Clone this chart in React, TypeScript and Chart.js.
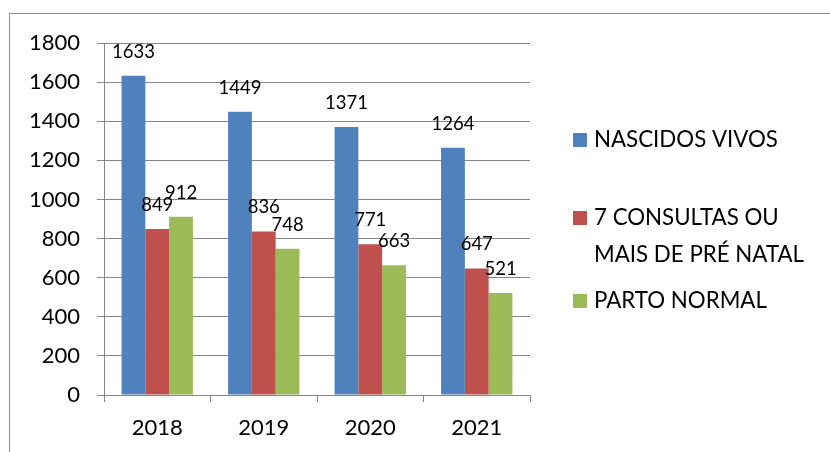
import React, { useEffect, useRef } from "react";
import { Chart, registerables } from "chart.js";

Chart.register(...registerables);

const categories = ["2018", "2019", "2020", "2021"];
const nascidosVivos = [1633, 1449, 1371, 1264];
const consultas = [849, 836, 771, 647];
const partoNormal = [912, 748, 663, 521];
const seriesNames = ["NASCIDOS VIVOS", "7 CONSULTAS OU MAIS DE PRÉ NATAL", "PARTO NORMAL"];
const legendLines = [["NASCIDOS VIVOS"], ["7 CONSULTAS OU", "MAIS DE PRÉ NATAL"], ["PARTO NORMAL"]];
const colors = ["#4F81BD", "#C0504D", "#9BBB59"];

const FONT = "Lato, 'Open Sans', sans-serif";
const GRID = "#868686";

export default function App() {
  const ref = useRef<HTMLCanvasElement | null>(null);

  useEffect(() => {
    document.body.style.margin = "0";
    const canvas = ref.current;
    if (!canvas) return;

    const framePlugin = {
      id: "frame",
      beforeDraw(chart: any) {
        const ctx = chart.ctx;
        ctx.save();
        ctx.fillStyle = "#ffffff";
        ctx.fillRect(0, 0, chart.width, chart.height);
        ctx.strokeStyle = "#8c8c8c";
        ctx.lineWidth = 1;
        ctx.strokeRect(9.5, 13.5, 900, 500);
        ctx.restore();
      },
    };

    const labelPlugin = {
      id: "barLabels",
      afterDatasetsDraw(chart: any) {
        const ctx = chart.ctx;
        ctx.save();
        ctx.font = `18.5px ${FONT}`;
        ctx.fillStyle = "#000";
        ctx.textAlign = "center";
        ctx.textBaseline = "middle";
        chart.data.datasets.forEach((ds: any, i: number) => {
          const meta = chart.getDatasetMeta(i);
          meta.data.forEach((bar: any, j: number) => {
            ctx.fillText(String(ds.data[j]), bar.x, bar.y - 24);
          });
        });
        ctx.restore();
      },
    };

    const legendPlugin = {
      id: "sideLegend",
      afterDraw(chart: any) {
        const ctx = chart.ctx;
        ctx.save();
        ctx.font = `22.3px ${FONT}`;
        ctx.fillStyle = "#000";
        ctx.textBaseline = "middle";
        ctx.textAlign = "left";
        const starts = [140, 218, 301];
        legendLines.forEach((lines, i) => {
          const y0 = starts[i];
          ctx.fillStyle = colors[i];
          ctx.fillRect(573, y0 - 7, 14, 14);
          ctx.fillStyle = "#000";
          lines.forEach((t, k) => {
            ctx.fillText(t, 594, y0 + k * 37);
          });
        });
        ctx.restore();
      },
    };

    const chart = new Chart(canvas, {
      type: "bar",
      data: {
        labels: categories,
        datasets: [nascidosVivos, consultas, partoNormal].map((d, i) => ({
          label: seriesNames[i],
          data: d,
          backgroundColor: colors[i],
          borderWidth: 0,
          categoryPercentage: 0.67,
          barPercentage: 1,
        })),
      },
      options: {
        responsive: false,
        animation: false,
        layout: { padding: { top: 43, right: 300, left: 0, bottom: 0 } },
        plugins: {
          legend: { display: false },
          tooltip: { enabled: false },
        },
        scales: {
          x: {
            grid: {
              offset: true,
              drawOnChartArea: false,
              drawTicks: true,
              tickLength: 7,
              color: GRID,
            },
            border: { display: true, color: GRID, width: 1 },
            ticks: { color: "#000", font: { family: FONT, size: 22 }, padding: 13 },
            afterFit(scale: any) {
              scale.height = 57;
            },
          },
          y: {
            min: 0,
            max: 1800,
            ticks: {
              stepSize: 200,
              color: "#000",
              font: { family: FONT, size: 22 },
              padding: 17,
              callback: (v: any) => String(v),
            },
            grid: { color: GRID, lineWidth: 1, tickLength: 7 },
            border: { display: true, color: GRID, width: 1 },
            afterFit(scale: any) {
              scale.width = 104;
            },
          },
        },
      },
      plugins: [framePlugin, labelPlugin, legendPlugin],
    });

    return () => chart.destroy();
  }, []);

  return (
    <div style={{ position: "absolute", left: 0, top: 0, width: 830, height: 452 }}>
      <canvas ref={ref} width={830} height={452} style={{ width: 830, height: 452, display: "block" }} />
    </div>
  );
}
